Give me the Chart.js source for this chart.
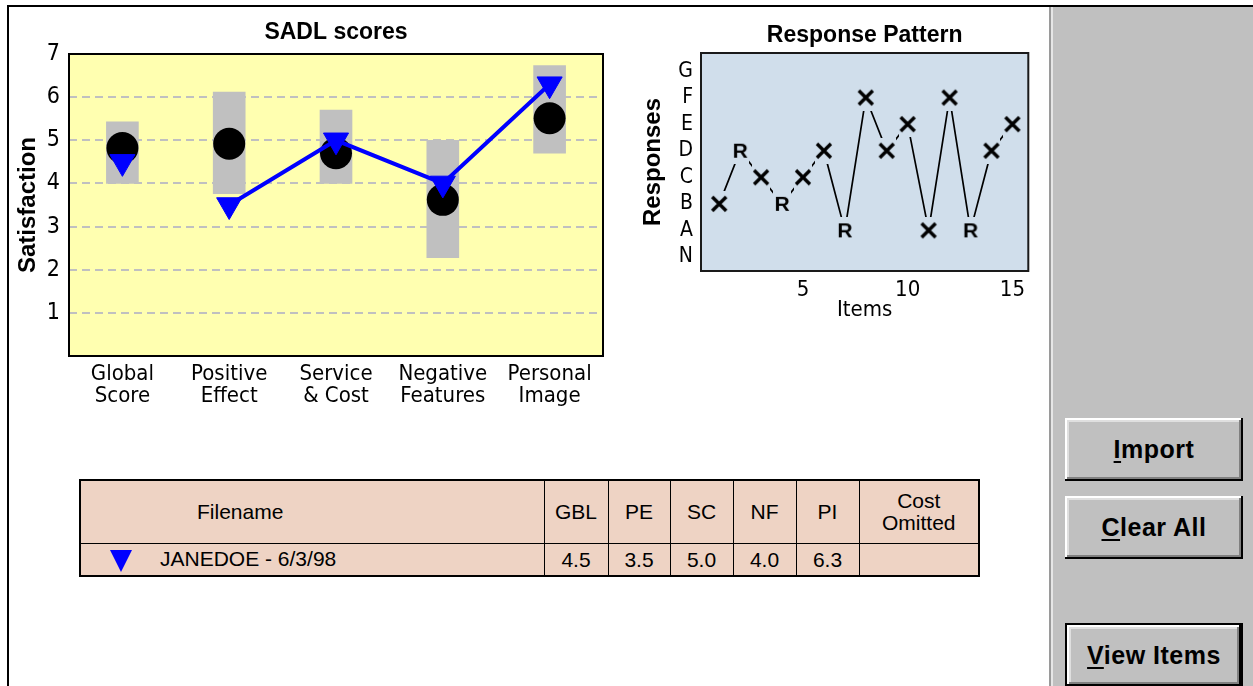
<!DOCTYPE html>
<html>
<head>
<meta charset="utf-8">
<title>SADL scores</title>
<script src="https://cdn.jsdelivr.net/npm/chart.js@4.4.1/dist/chart.umd.min.js"></script>
<style>
  body {
    margin: 0;
    width: 1253px;
    height: 686px;
    overflow: hidden;
    position: relative;
    background: #fff;
    font-family: Arial, 'Liberation Sans', sans-serif;
  }
  .rule-top { position: absolute; left: 7px; right: 0; top: 5px; height: 2px; background: #000; }
  .rule-left { position: absolute; left: 7px; top: 5px; bottom: 0; width: 2px; background: #000; }
  #sadlWrap { position: absolute; left: 10px; top: 10px; width: 610px; height: 410px; }
  #patternWrap { position: absolute; left: 620px; top: 10px; width: 420px; height: 320px; }

  #scoreTable {
    position: absolute;
    left: 79px;
    top: 479px;
    width: 899px;
    table-layout: fixed;
    border-collapse: collapse;
    background: #eed3c4;
    border: 2px solid #000;
    font-size: 21px;
    color: #000;
  }
  #scoreTable td { border: 1px solid #000; text-align: center; padding: 0; }
  #scoreTable tr.head td { height: 62px; line-height: 22px; }
  #scoreTable tr.row td { height: 31px; }
  #scoreTable td.fname { text-align: left; padding-left: 116px; }
  #scoreTable tr.row td.fname { padding-left: 29px; }
  .tri {
    display: inline-block;
    width: 0; height: 0;
    border-left: 11px solid transparent;
    border-right: 11px solid transparent;
    border-top: 22px solid #0000ff;
    vertical-align: middle;
    margin-right: 28px;
  }

  .panel {
    position: absolute;
    left: 1049px; top: 7px; right: 0; bottom: 0;
    background: #c0c0c0;
    border-left: 2px solid #9a9a9a;
    box-shadow: inset 2px 0 #e6e6e6;
  }
  .btn {
    position: absolute;
    left: 1065px;
    width: 178px;
    height: 63px;
    box-sizing: border-box;
    background: #c0c0c0;
    display: flex;
    align-items: center;
    justify-content: center;
    font: bold 25px Arial, 'Liberation Sans', sans-serif;
    letter-spacing: 0.5px;
    color: #000;
    box-shadow: inset -2px -2px #000, inset 2px 2px #fff, inset -4px -4px #808080, inset 4px 4px #dfdfdf;
  }
  .btn.default { border: 2px solid #000; }
  .btn u { text-decoration-thickness: 2px; text-underline-offset: 3px; }
</style>
</head>
<body>
<div class="rule-top"></div>
<div class="rule-left"></div>

<div id="sadlWrap"><canvas id="sadl"></canvas></div>
<div id="patternWrap"><canvas id="pattern"></canvas></div>

<table id="scoreTable"></table>

<div class="panel"></div>
<div class="btn" style="top:418px"><span><u>I</u>mport</span></div>
<div class="btn" style="top:496px"><span><u>C</u>lear All</span></div>
<div class="btn default" style="top:623px;height:65px"><span><u>V</u>iew Items</span></div>

<script>
// SADL subscales
const categories = [['Global', 'Score'], ['Positive', 'Effect'], ['Service', '& Cost'], ['Negative', 'Features'], ['Personal', 'Image']];
const normLow = [4.0, 3.76, 4.0, 2.28, 4.7];
const normHigh = [5.43, 6.12, 5.7, 5.0, 6.73];
const normMean = [4.82, 4.92, 4.7, 3.62, 5.51];
const userScores = [4.5, 3.5, 5.0, 4.0, 6.3];
const scoreTicks = [1, 2, 3, 4, 5, 6, 7];

// response pattern
const items = [1, 2, 3, 4, 5, 6, 7, 8, 9, 10, 11, 12, 13, 14, 15];
const responses = [2, 4, 3, 2, 3, 4, 1, 6, 4, 5, 1, 6, 1, 4, 5];
const responseMarks = ['X', 'R', 'X', 'R', 'X', 'X', 'R', 'X', 'X', 'X', 'X', 'X', 'R', 'X', 'X'];
const responseLetters = ['N', 'A', 'B', 'C', 'D', 'E', 'F', 'G'];
const itemTicks = [5, 10, 15];

// table
const tableColumns = ['GBL', 'PE', 'SC', 'NF', 'PI'];
const fileName = 'JANEDOE - 6/3/98';

const BLUE = '#0000ff';
const NARROW = "'Liberation Sans Narrow', 'Arial Narrow', 'DejaVu Sans Condensed', Arial, sans-serif";
const BOLD = "Arial, 'Liberation Sans', sans-serif";
const SADL_BG = '#ffffb0';
const PATTERN_BG = '#d0deeb';

const plotFrame = {
  id: 'plotFrame',
  beforeDraw(chart, args, opts) {
    const {ctx, chartArea: a} = chart;
    ctx.save();
    ctx.fillStyle = opts.fill;
    ctx.fillRect(a.left, a.top, a.width, a.height);
    ctx.restore();
  },
  beforeDatasetsDraw(chart, args, opts) {
    const {ctx, chartArea: a} = chart;
    ctx.save();
    ctx.strokeStyle = opts.border;
    ctx.lineWidth = 2;
    ctx.strokeRect(a.left, a.top, a.width, a.height);
    ctx.restore();
  }
};

Chart.defaults.animation = false;
Chart.defaults.color = '#000';

new Chart(document.getElementById('sadl'), {
  type: 'bar',
  plugins: [plotFrame],
  data: {
    labels: categories,
    datasets: [
      {
        type: 'line',
        data: userScores,
        borderColor: BLUE,
        backgroundColor: BLUE,
        borderWidth: 4,
        pointStyle: 'triangle',
        rotation: 180,
        pointRadius: 14.5,
        pointBorderWidth: 1,
        segment: {
          // no connecting segment from the global score
          borderColor: ctx => ctx.p0DataIndex === 0 ? 'rgba(0,0,0,0)' : BLUE
        },
        order: 1
      },
      {
        type: 'line',
        data: normMean,
        showLine: false,
        pointRadius: 16,
        pointBorderWidth: 0,
        backgroundColor: '#000',
        borderColor: '#000',
        order: 2
      },
      {
        data: normLow.map((lo, i) => [lo, normHigh[i]]),
        backgroundColor: '#c0c0c0',
        barThickness: 32,
        order: 3
      }
    ]
  },
  options: {
    responsive: true,
    maintainAspectRatio: false,
    layout: { padding: { top: 0, right: 17, bottom: 0, left: 0 } },
    scales: {
      x: {
        grid: { display: false, drawTicks: false },
        border: { display: false },
        ticks: {
          font: { family: NARROW, size: 22, lineHeight: 1.02 },
          padding: 7,
          maxRotation: 0,
          autoSkip: false
        },
        afterFit: scale => { scale.height = 64; }
      },
      y: {
        min: 0,
        max: 7,
        afterBuildTicks: scale => { scale.ticks = scoreTicks.map(v => ({ value: v })); },
        ticks: { font: { family: NARROW, size: 23 }, padding: 9 },
        grid: {
          color: ctx => ctx.tick && ctx.tick.value < 7 ? '#c0c0c0' : 'rgba(0,0,0,0)',
          lineWidth: 2,
          drawTicks: false
        },
        border: { display: false, dash: [8, 5] },
        title: {
          display: true,
          text: 'Satisfaction',
          font: { family: BOLD, size: 24, weight: 'bold' },
          padding: { top: 3.6, bottom: 0 }
        },
        afterFit: scale => { scale.width = 59; }
      }
    },
    plugins: {
      legend: { display: false },
      tooltip: { enabled: false },
      title: {
        display: true,
        text: 'SADL scores',
        fullSize: false,
        font: { family: BOLD, size: 23, weight: 'bold' },
        padding: { top: 8.7, bottom: 7.7 }
      },
      plotFrame: { fill: SADL_BG, border: '#000' }
    }
  }
});

// letter markers sit on a patch of plot colour so the line stops short of them
function makeMark(ch) {
  const c = document.createElement('canvas');
  c.width = 18;
  c.height = 26;
  const g = c.getContext('2d');
  g.fillStyle = PATTERN_BG;
  g.fillRect(0, 0, c.width, c.height);
  g.fillStyle = '#000';
  g.strokeStyle = '#000';
  if (ch === 'X') {
    g.lineWidth = 3.4;
    g.beginPath();
    g.moveTo(2, 6); g.lineTo(16, 20);
    g.moveTo(16, 6); g.lineTo(2, 20);
    g.stroke();
  } else {
    g.font = 'bold 21px ' + BOLD;
    g.textAlign = 'center';
    g.textBaseline = 'middle';
    g.fillText(ch, 9, 14);
  }
  return c;
}
const markImages = { X: makeMark('X'), R: makeMark('R') };

new Chart(document.getElementById('pattern'), {
  type: 'line',
  plugins: [plotFrame],
  data: {
    datasets: [{
      data: items.map((x, i) => ({ x, y: responses[i] })),
      borderColor: '#000',
      borderWidth: 1.7,
      pointRadius: 10,
      pointStyle: ctx => markImages[responseMarks[ctx.dataIndex]],
      clip: false
    }]
  },
  options: {
    responsive: true,
    maintainAspectRatio: false,
    layout: { padding: { top: 0, right: 9, bottom: 0, left: 0 } },
    scales: {
      x: {
        type: 'linear',
        min: 0.13,
        max: 15.76,
        afterBuildTicks: scale => { scale.ticks = itemTicks.map(v => ({ value: v })); },
        grid: { display: false, drawTicks: false },
        border: { display: false },
        ticks: { font: { family: NARROW, size: 22, lineHeight: 1 }, padding: 8 },
        title: {
          display: true,
          text: 'Items',
          font: { family: NARROW, size: 22 },
          padding: { top: 0, bottom: 6.8 }
        },
        afterFit: scale => { scale.height = 59; }
      },
      y: {
        type: 'linear',
        min: -0.53,
        max: 7.68,
        afterBuildTicks: scale => { scale.ticks = responseLetters.map((l, i) => ({ value: i })); },
        grid: { display: false, drawTicks: false },
        border: { display: false },
        ticks: {
          font: { family: NARROW, size: 21 },
          padding: 8,
          callback: v => responseLetters[v]
        },
        title: {
          display: true,
          text: 'Responses',
          font: { family: BOLD, size: 24, weight: 'bold' },
          padding: { top: 18.6, bottom: 0 }
        },
        afterFit: scale => { scale.width = 81; }
      }
    },
    plugins: {
      legend: { display: false },
      tooltip: { enabled: false },
      title: {
        display: true,
        text: 'Response Pattern',
        fullSize: false,
        font: { family: BOLD, size: 23, weight: 'bold' },
        padding: { top: 11.7, bottom: 3.7 }
      },
      plotFrame: { fill: PATTERN_BG, border: '#1a1a1a' }
    }
  }
});

// score table
const table = document.getElementById('scoreTable');
const widths = [464, 64, 62, 63, 63, 63, 120];
const colgroup = document.createElement('colgroup');
widths.forEach(w => {
  const col = document.createElement('col');
  col.style.width = w + 'px';
  colgroup.appendChild(col);
});
table.appendChild(colgroup);

const head = table.insertRow();
head.className = 'head';
head.insertCell().outerHTML = '<td class="fname">Filename</td>';
tableColumns.forEach(name => { head.insertCell().textContent = name; });
head.insertCell().innerHTML = 'Cost<br>Omitted';

const row = table.insertRow();
row.className = 'row';
row.insertCell().outerHTML = '<td class="fname"><span class="tri"></span>' + fileName + '</td>';
userScores.forEach(v => { row.insertCell().textContent = v.toFixed(1); });
row.insertCell();
</script>
</body>
</html>
